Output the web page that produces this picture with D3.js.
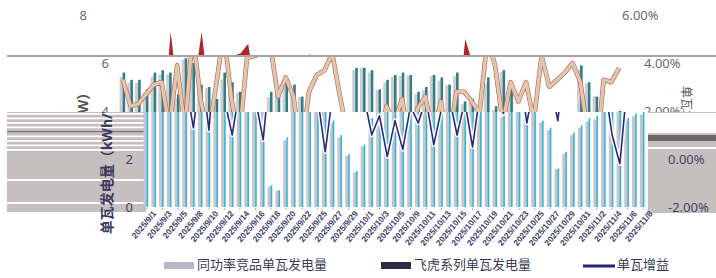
<!DOCTYPE html>
<html>
<head>
<meta charset="utf-8">
<script src="https://cdn.jsdelivr.net/npm/d3@7"></script>
<style>
html, body { margin: 0; padding: 0; background: #fff; }
svg { display: block; font-family: "Noto Sans", "Noto Sans CJK SC", sans-serif; }
</style>
</head>
<body>
<svg id="chart" width="716" height="278"></svg>
<script>
// ----- //
// data
// ----- //
const dates = [
  "2025/9/1","2025/9/2","2025/9/3","2025/9/4","2025/9/5","2025/9/6","2025/9/8","2025/9/9","2025/9/10","2025/9/11",
  "2025/9/12","2025/9/13","2025/9/14","2025/9/15","2025/9/16","2025/9/17","2025/9/18","2025/9/19","2025/9/20","2025/9/21",
  "2025/9/22","2025/9/24","2025/9/25","2025/9/26","2025/9/27","2025/9/28","2025/9/29","2025/9/30","2025/10/1","2025/10/2",
  "2025/10/3","2025/10/4","2025/10/5","2025/10/7","2025/10/9","2025/10/10","2025/10/11","2025/10/12","2025/10/13","2025/10/14",
  "2025/10/15","2025/10/16","2025/10/17","2025/10/18","2025/10/19","2025/10/20","2025/10/21","2025/10/22","2025/10/23","2025/10/24",
  "2025/10/25","2025/10/26","2025/10/27","2025/10/28","2025/10/29","2025/10/30","2025/10/31","2025/11/1","2025/11/2","2025/11/3",
  "2025/11/4","2025/11/5","2025/11/6","2025/11/7","2025/11/8"
];
// 同功率竞品单瓦发电量
const rivalYield = [
  5.42,5.19,5.18,4.77,5.43,5.52,5.53,4.52,6.13,5.70,
  4.98,4.95,4.37,5.32,5.07,4.76,0.86,0.67,2.78,4.58,
  4.68,5.13,4.97,4.59,3.50,2.90,2.12,1.44,2.53,3.66,
  5.70,5.79,5.61,4.88,5.19,5.42,5.46,5.47,4.70,4.87,
  5.45,5.27,5.07,5.45,4.28,4.39,3.73,5.14,4.04,5.62,
  4.75,3.52,3.20,1.57,2.21,3.01,3.29,3.57,3.65,5.72,
  5.15,4.61,3.58,3.78,3.85
];
// 飞虎系列单瓦发电量
const feihuYield = [
  5.6,5.3,5.3,4.9,5.6,5.7,5.6,4.7,6.2,6.0,
  5.1,5.0,4.5,5.6,5.2,4.8,0.9,0.7,2.9,4.8,
  4.8,5.3,5.1,4.6,3.6,3.0,2.2,1.5,2.6,3.7,
  5.8,5.8,5.7,4.9,5.3,5.5,5.6,5.5,4.8,5.0,
  5.5,5.4,5.1,5.6,4.4,4.5,3.8,5.4,4.2,5.7,
  4.9,3.6,3.3,1.6,2.3,3.1,3.4,3.7,3.8,5.9,
  5.2,4.6,3.7,3.9,4.0
];
// 单瓦增益 (%)
const gainPct = [
  3.3,2.2,2.3,2.7,3.1,3.2,1.3,3.9,1.2,5.3,
  2.5,1.0,3.0,5.3,2.5,0.8,4.2,4.3,4.4,4.8,
  2.6,3.4,2.6,0.3,2.8,3.5,3.7,4.4,2.6,1.0,
  1.8,0.1,1.6,0.4,2.2,1.5,2.5,0.6,2.1,2.6,
  1.0,2.4,0.5,2.8,2.8,2.4,1.9,5.0,3.9,1.5,
  3.2,2.4,3.2,1.6,4.3,3.0,3.3,3.6,4.0,3.2,
  1.0,-0.2,3.3,3.2,3.8
];
const leftTicks = [0, 2, 4, 6, 8];
const rightTicks = [-2, 0, 2, 4, 6];
const legendLabels = ["同功率竞品单瓦发电量", "飞虎系列单瓦发电量", "单瓦增益"];

// ----- //
// setup
// ----- //
const W = 716, H = 278;
const svg = d3.select("#chart");

const x = d3.scaleBand().domain(dates).range([143, 647]);
const y = d3.scaleLinear().domain([0, 8]).range([207, 15]);
const yR = d3.scaleLinear().domain([-2, 6]).range([207, 15]);
const cx = d => x(d) + x.bandwidth() / 2;

// the picture is cut into three horizontal strips, each slid sideways
const strips = [
  { y0: 0,   y1: 55,  dx: -46, pal: { rival: "#cbc6c6", feihu: "#2e7f8c", rw: 3, fw: 2.6, line: "area", lineA: "#b1232a", label: "#6b6b6b", title: "#6b6b6b" } },
  { y0: 57,  y1: 112, dx: -24, pal: { rival: "#d2cdcd", feihu: "#2d7e8c", rw: 3, fw: 2.6, line: "outline", lineA: "#cf5a52", lineB: "#dac9ad", label: "#6b6b6b", title: "#555" } },
  { y0: 112, y1: H,   dx: 0,   pal: { rival: "#c9c4c6", feihu: "#2db5e1", rw: 3.4, fw: 1.6, line: "halo", lineA: "#ffffff", lineB: "#28297a", label: "#45456a", title: "#3b3b5e" } }
];

const defs = svg.append("defs");
strips.forEach((s, i) => {
  defs.append("clipPath").attr("id", "strip" + i)
    .append("rect")
    .attr("x", 0).attr("y", s.y0)
    .attr("width", W).attr("height", s.y1 - s.y0);
});

// ----- //
// grey smear blocks behind the lower strip
// ----- //
const back = svg.append("g");
back.append("rect").attr("x", 7).attr("y", 112).attr("width", 139).attr("height", 100).attr("fill", "#c5bfbf");
d3.range(113, 150, 4.5).forEach(v => {
  back.append("rect").attr("x", 7).attr("y", v).attr("width", 139).attr("height", 1.8).attr("fill", "#fff");
});
back.append("rect").attr("x", 7).attr("y", 131).attr("width", 139).attr("height", 1.5).attr("fill", "#7a7272");
back.append("rect").attr("x", 7).attr("y", 179).attr("width", 139).attr("height", 2).attr("fill", "#fff");
back.append("rect").attr("x", 7).attr("y", 202).attr("width", 139).attr("height", 2).attr("fill", "#fff");
back.append("rect").attr("x", 648).attr("y", 112).attr("width", 68).attr("height", 101).attr("fill", "#c5bfbf");
back.append("rect").attr("x", 648).attr("y", 113).attr("width", 68).attr("height", 20).attr("fill", "#fff");
back.append("rect").attr("x", 648).attr("y", 135).attr("width", 68).attr("height", 6).attr("fill", "#6e6666");
back.append("rect").attr("x", 648).attr("y", 147).attr("width", 68).attr("height", 2).attr("fill", "#fff");

// ----- //
// one full drawing of the chart, reused for every strip
// ----- //
function drawLayer(g, pal, s, withDates) {
  // only the ticks that sit inside this strip
  const inStrip = v => v >= s.y0 && v < s.y1;

  // bars
  g.append("g").selectAll("rect")
    .data(rivalYield)
    .join("rect")
    .attr("x", (d, i) => x(dates[i]) + 0.6)
    .attr("y", d => y(d))
    .attr("width", pal.rw)
    .attr("height", d => y(0) - y(d))
    .attr("fill", pal.rival);
  g.append("g").selectAll("rect")
    .data(feihuYield)
    .join("rect")
    .attr("x", (d, i) => x(dates[i]) + 0.6 + 3)
    .attr("y", d => y(d))
    .attr("width", pal.fw)
    .attr("height", d => y(0) - y(d))
    .attr("fill", pal.feihu);

  // gain line
  const line = d3.line().x((d, i) => cx(dates[i])).y(d => yR(d));
  if (pal.line === "area") {
    const area = d3.area().x((d, i) => cx(dates[i])).y0(yR(-2)).y1(d => yR(d));
    g.append("path").datum(gainPct).attr("d", area).attr("fill", pal.lineA);
  } else {
    g.append("path").datum(gainPct).attr("d", line)
      .attr("fill", "none").attr("stroke", pal.lineA)
      .attr("stroke-width", pal.line === "outline" ? 4.6 : 4.5)
      .attr("stroke-linejoin", "round");
    g.append("path").datum(gainPct).attr("d", line)
      .attr("fill", "none").attr("stroke", pal.lineB)
      .attr("stroke-width", pal.line === "outline" ? 3.4 : 1.6)
      .attr("stroke-linejoin", "round");
  }

  // left axis
  const ax = g.append("g")
    .attr("transform", "translate(133,0)")
    .call(d3.axisLeft(y).tickValues(leftTicks.filter(v => inStrip(y(v)))).tickSize(0).tickPadding(0));
  ax.select(".domain").remove();
  ax.selectAll("text").attr("font-size", 13).attr("fill", pal.label)
    .attr("font-family", "Noto Sans, sans-serif");

  // right axis
  const ar = g.append("g")
    .attr("transform", "translate(668,0)")
    .call(d3.axisRight(yR).tickValues(rightTicks.filter(v => inStrip(yR(v)))).tickSize(0).tickPadding(0)
      .tickFormat(d => d.toFixed(2) + "%"));
  ar.select(".domain").remove();
  ar.selectAll("text").attr("font-size", 13).attr("fill", pal.label)
    .attr("font-family", "Noto Sans, sans-serif");

  // axis titles (left one spans the two lower strips)
  if (s.y1 > 85) {
    g.append("text")
      .attr("transform", "translate(112,160) rotate(-90)")
      .attr("text-anchor", "middle")
      .attr("font-size", 14).attr("font-weight", "bold")
      .attr("fill", pal.title)
      .text("单瓦发电量（kWh/W）");
  }
  if (s.y0 > 0 && s.y0 < 100) {
    g.append("text")
      .attr("transform", "translate(706,110) rotate(90)")
      .attr("text-anchor", "middle")
      .attr("font-size", 12)
      .attr("fill", "#555")
      .text("单瓦增益");
  }

  // date axis
  if (withDates) {
    const axX = g.append("g")
      .attr("transform", "translate(0,208)")
      .call(d3.axisBottom(x).tickValues(dates.filter((d, i) => i % 2 === 0)).tickSize(2).tickPadding(2));
    axX.select(".domain").remove();
    axX.selectAll("line").attr("stroke", "#b9b9c6");
    axX.selectAll("text")
      .attr("font-size", 8.5).attr("font-weight", 600)
      .attr("fill", "#44446a")
      .attr("text-anchor", "end")
      .attr("dy", "0.6em")
      .attr("transform", "translate(3,0) rotate(-50)");
  }
}

strips.forEach((s, i) => {
  const holder = svg.append("g").attr("clip-path", `url(#strip${i})`);
  const g = holder.append("g").attr("transform", `translate(${s.dx},0)`);
  drawLayer(g, s.pal, s, i === 2);
});

// seam line between top strips
svg.append("rect").attr("x", 7).attr("y", 55).attr("width", W - 7).attr("height", 2).attr("fill", "#a9a3a3");

// ----- //
// legend
// ----- //
const legend = svg.append("g").attr("font-size", 13).attr("fill", "#3b3b55");
const legendX = [164, 381, 583];
legend.append("rect").attr("x", legendX[0]).attr("y", 262).attr("width", 30).attr("height", 7).attr("fill", "#b9b7ca");
legend.append("rect").attr("x", legendX[1]).attr("y", 262).attr("width", 30).attr("height", 7).attr("fill", "#2f2d47");
legend.append("rect").attr("x", legendX[2]).attr("y", 264.5).attr("width", 32).attr("height", 3).attr("fill", "#23237a");
legendLabels.forEach((t, i) => {
  legend.append("text")
    .attr("x", legendX[i] + (i === 2 ? 34 : 33))
    .attr("y", 266)
    .attr("dominant-baseline", "middle")
    .text(t);
});
</script>
</body>
</html>
